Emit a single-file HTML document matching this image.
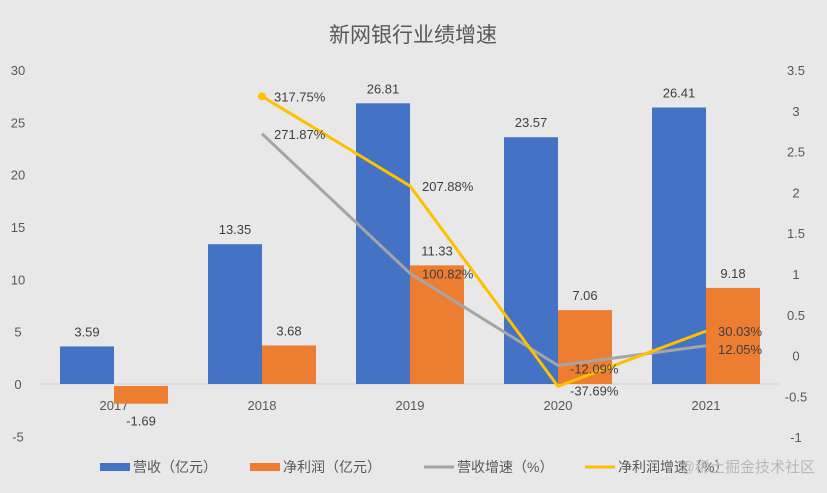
<!DOCTYPE html>
<html><head><meta charset="utf-8"><style>
html,body{margin:0;padding:0;background:#e8e8e8;}
svg{display:block;font-family:"Liberation Sans","Noto Sans CJK SC",sans-serif;}
</style></head><body>
<svg id="chart" width="827" height="493" viewBox="0 0 827 493">
<rect width="827" height="493" fill="#e8e8e8"/>
<text x="413" y="42" text-anchor="middle" font-size="21" fill="#595959">新网银行业绩增速</text>
<g id="axes"></g><g id="bars"></g><g id="lines"></g><g id="labels"></g>
<g>
<rect x="100" y="463" width="30" height="8" fill="#4472c4"/>
<text x="133" y="472" font-size="14" fill="#595959">营收（亿元）</text>
<rect x="250" y="463" width="30" height="8" fill="#ed7d31"/>
<text x="283" y="472" font-size="14" fill="#595959">净利润（亿元）</text>
<line x1="424" y1="467" x2="454" y2="467" stroke="#a5a5a5" stroke-width="3"/>
<text x="457" y="472" font-size="14" fill="#595959">营收增速（%）</text>
<line x1="585" y1="467" x2="615" y2="467" stroke="#ffc000" stroke-width="3"/>
<text x="618" y="472" font-size="14" fill="#595959">净利润增速（%）</text>
</g>
<text x="815" y="472" text-anchor="end" font-size="15" fill="#b8b8b8">@稀土掘金技术社区</text>
</svg>
<script>
const categories = ["2017","2018","2019","2020","2021"];
const revenue = [3.59, 13.35, 26.81, 23.57, 26.41];
const profit = [-1.69, 3.68, 11.33, 7.06, 9.18];
const revenueGrowth = [null, 2.7187, 1.0082, -0.1209, 0.1205];
const profitGrowth = [null, 3.1775, 2.0788, -0.3769, 0.3003];
const leftTicks = [-5, 0, 5, 10, 15, 20, 25, 30];
const rightTicks = [-1, -0.5, 0, 0.5, 1, 1.5, 2, 2.5, 3, 3.5];

const NS = "http://www.w3.org/2000/svg";
const yL = v => 384 - v * 10.47;
const yR = v => 355.6 - v * 81.6;
const xC = i => 114 + i * 148;
function mk(tag, attrs, parent, text) {
  const e = document.createElementNS(NS, tag);
  for (const k in attrs) e.setAttribute(k, attrs[k]);
  if (text !== undefined) e.textContent = text;
  document.getElementById(parent).appendChild(e);
  return e;
}
const fmt = v => (v * 100).toFixed(2) + "%";

leftTicks.forEach(t => {
  const e = mk("text", {x: 18, y: yL(t) + 5, "text-anchor": "middle", "font-size": 13, fill: "#595959"}, "axes", String(t));
  
  
});
rightTicks.forEach(t => {
  const e = mk("text", {x: 796, y: yR(t) + 5, "text-anchor": "middle", "font-size": 13, fill: "#595959"}, "axes", String(t));
  
  
});
const zl = mk("line", {x1: 40, x2: 779, y1: yL(0), y2: yL(0), stroke: "#d0d0d0", "stroke-width": 1}, "axes");


categories.forEach((c, i) => {
  const e = mk("text", {x: xC(i), y: 410, "text-anchor": "middle", "font-size": 13, fill: "#595959"}, "axes", c);
  
  
});

revenue.forEach((v, i) => {
  const y0 = yL(0), y1 = yL(v);
  const b = mk("rect", {x: xC(i) - 54, y: Math.min(y0, y1), width: 54, height: Math.abs(y1 - y0), fill: "#4472c4"}, "bars");
  
  
  const t = mk("text", {x: xC(i) - 27, y: y1 - 10, "text-anchor": "middle", "font-size": 13, fill: "#404040"}, "labels", v.toFixed(2));
  
  
});
profit.forEach((v, i) => {
  const y0 = yL(0), y1 = yL(v);
  const b = mk("rect", {x: xC(i), y: Math.min(y0, y1) + (v < 0 ? 2 : 0), width: 54, height: Math.abs(y1 - y0), fill: "#ed7d31"}, "bars");
  
  
  const ty = v < 0 ? y1 + 24 : y1 - 10;
  const t = mk("text", {x: xC(i) + 27, y: ty, "text-anchor": "middle", "font-size": 13, fill: "#404040"}, "labels", v.toFixed(2));
  
  
});

function drawLine(arr, color, name, dy) {
  const pts = [];
  arr.forEach((v, i) => { if (v !== null) pts.push([xC(i), yR(v)]); });
  const p = mk("polyline", {points: pts.map(p => p.join(",")).join(" "), fill: "none", stroke: color, "stroke-width": 3, "stroke-linejoin": "round"}, "lines");
  
  
  arr.forEach((v, i) => {
    if (v === null) return;
    const t = mk("text", {x: xC(i) + 12, y: yR(v) + 5 + dy[i], "font-size": 13, fill: "#404040"}, "labels", fmt(v));
    
    
  });
}
drawLine(revenueGrowth, "#a5a5a5", "revenue-growth", [0, 0, 0, 3, 3]);
drawLine(profitGrowth, "#ffc000", "profit-growth", [0, 0, 0, 4, 0]);
const pg = profitGrowth.findIndex(v => v !== null);
const dot = mk("circle", {cx: xC(pg), cy: yR(profitGrowth[pg]), r: 4, fill: "#ffc000"}, "lines");


</script>
</body></html>
